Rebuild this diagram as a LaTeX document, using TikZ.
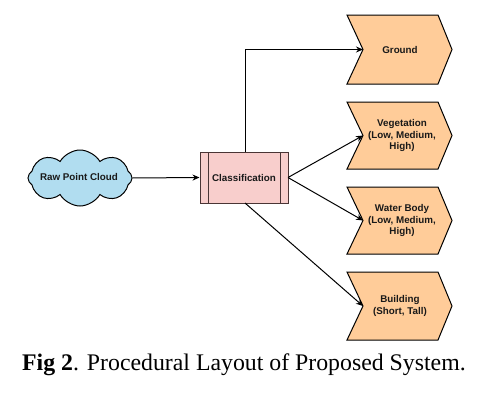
\documentclass[tikz,border=0pt]{standalone}
\usepackage{fontspec}
\setmainfont{Liberation Serif}
\newfontfamily\arialf{Liberation Sans}
\usetikzlibrary{shapes.symbols,arrows.meta}
\definecolor{chev}{HTML}{FFCC99}
\definecolor{cloudc}{HTML}{B1DDF0}
\definecolor{pinkc}{HTML}{F8CECC}
\definecolor{boxline}{HTML}{4A3535}
\begin{document}
\begin{tikzpicture}[x=1pt,y=-1pt,
  lbl/.style={font=\arialf\bfseries\fontsize{9.8}{11.5}\selectfont, text=black!90, align=center},
  conn/.style={draw=black, line width=1pt, -{Stealth[length=7pt,width=6pt]}},
  chevshape/.style={fill=chev, draw=black, line width=1pt}]
\useasboundingbox (0,0) rectangle (490,407);
% cloud
\node[cloud, cloud puffs=8, cloud puff arc=120, aspect=2, fill=cloudc, draw=black, line width=1pt,
  minimum width=104pt, minimum height=56pt, inner sep=0pt] (cloud) at (80,178) {};
\node[lbl] (cloudtxt) at (79,177) {Raw Point Cloud};
% classification box
\node[draw=boxline, fill=pinkc, line width=1pt, minimum width=88pt, minimum height=51pt, inner sep=0pt] (cls) at (244,177.5) {};
\draw[boxline, line width=1pt] (208,152) -- (208,203) (280,152) -- (280,203);
\node[lbl] (clstxt) at (244,177.5) {Classification};
% chevrons
\foreach \nm/\t/\b in {gr/15/84, veg/102/169, wat/187/254, bld/272/340}{
  \pgfmathsetmacro{\m}{(\t+\b)/2}
  \draw[chevshape] (347,\t) -- (438,\t) -- (452,\m) -- (438,\b) -- (347,\b) -- (363,\m) -- cycle;
  \coordinate (\nm) at (363,\m);
}
\node[lbl] (grt) at (400,49.5) {Ground};
\node[lbl] (vegt) at (402,135.5) {Vegetation\\(Low, Medium,\\High)};
\node[lbl] (watt) at (402,220.5) {Water Body\\(Low, Medium,\\High)};
\node[lbl] (bldt) at (400,306) {Building\\(Short, Tall)};
% connectors
\coordinate (clsr) at (288,177.5);
\coordinate (clst) at (245,152);
\coordinate (clsb) at (245,203);
\draw[conn] (cloud.east) -- (cls.west);
\draw[conn] (clst) |- (gr);
\draw[conn] (clsr) -- (veg);
\draw[conn] (clsr) -- (wat);
\draw[conn] (clsb) -- (bld);
% caption
\node[anchor=base west, inner sep=0pt, font=\fontsize{23.8}{27}\selectfont] (cap) at (22,370) {\textbf{Fig 2}. Procedural Layout of Proposed System.};
\end{tikzpicture}
\end{document}
